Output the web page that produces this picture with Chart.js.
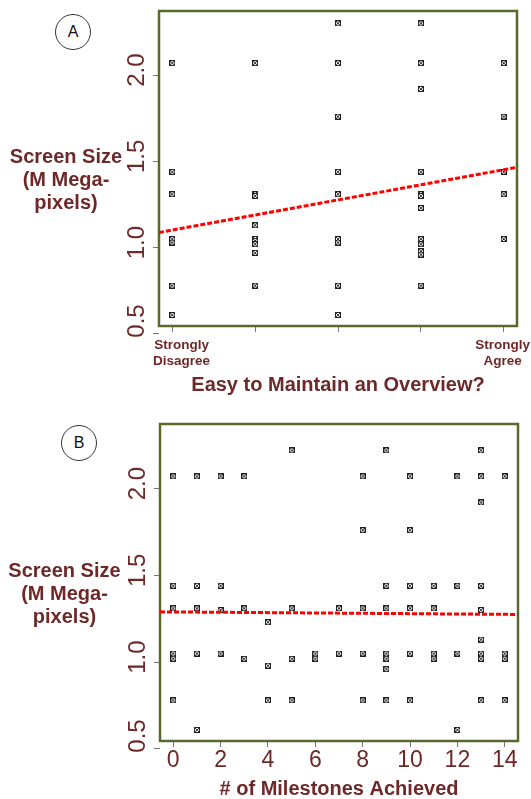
<!DOCTYPE html>
<html><head><meta charset="utf-8">
<script src="https://cdn.jsdelivr.net/npm/chart.js@4.4.0/dist/chart.umd.min.js"></script>
<style>
html,body{margin:0;padding:0;background:#fff;width:531px;height:799px;overflow:hidden;font-family:"Liberation Sans",Arial,sans-serif;}
canvas{position:absolute;left:0;}
#cA{top:0}
#cB{top:400px}
.ytitle{position:absolute;text-align:center;font-weight:bold;font-size:20px;line-height:23px;color:#6e2828;}
.badge{position:absolute;width:34px;height:34px;border:1px solid #333;border-radius:50%;text-align:center;line-height:34px;font-size:16px;color:#111;background:#fff;}
</style></head><body>
<canvas id="cA" width="531" height="400"></canvas>
<canvas id="cB" width="531" height="399"></canvas>
<div class="badge" style="left:55px;top:14px">A</div>
<div class="badge" style="left:61px;top:425px">B</div>
<div class="ytitle" style="left:0;top:145px;width:132px">Screen Size<br>(M Mega-<br>pixels)</div>
<div class="ytitle" style="left:0;top:559px;width:129px">Screen Size<br>(M Mega-<br>pixels)</div>
<script>
// ---- Data ----
// Panel A: agreement (1 = Strongly Disagree ... 5 = Strongly Agree) vs screen size (MP)
const agreeA = [1,1,1,1,1,1,1, 2,2,2,2,2,2,2,2,2, 3,3,3,3,3,3,3,3,3, 4,4,4,4,4,4,4,4,4,4,4,4, 5,5,5,5,5];
const screenA = [2.07,1.44,1.31,1.05,1.03,0.78,0.61,
                 2.07,1.31,1.30,1.13,1.05,1.04,1.02,0.97,0.78,
                 2.30,2.07,1.76,1.44,1.31,1.05,1.03,0.78,0.61,
                 2.30,2.07,1.92,1.44,1.31,1.30,1.23,1.05,1.02,0.98,0.96,0.78,
                 2.07,1.76,1.44,1.31,1.05];
const fitXA = [0.84, 5.16];
const fitYA = [1.088, 1.466];
const agreeTicks = [1,2,3,4,5];
const agreeLabels = [['Strongly','Disagree'],'','','',['Strongly','Agree']];

// Panel B: milestones achieved vs screen size (MP)
const milesB = [0,0,0,0,0,0, 1,1,1,1,1, 2,2,2,2, 3,3,3, 4,4,4, 5,5,5,5, 6,6, 7,7,
                8,8,8,8,8, 9,9,9,9,9,9,9, 10,10,10,10,10,10, 11,11,11,11, 12,12,12,12,
                13,13,13,13,13,13,13,13,13, 14,14,14,14];
const screenB = [2.07,1.44,1.31,1.05,1.02,0.78,
                 2.07,1.44,1.31,1.05,0.61,
                 2.07,1.44,1.30,1.05,
                 2.07,1.31,1.02,
                 1.23,0.98,0.78,
                 2.22,1.31,1.02,0.78,
                 1.05,1.02,
                 1.31,1.05,
                 2.07,1.76,1.31,1.05,0.78,
                 2.22,1.44,1.31,1.05,1.02,0.96,0.78,
                 2.07,1.76,1.44,1.31,1.05,0.78,
                 1.44,1.31,1.05,1.02,
                 2.07,1.44,1.05,0.61,
                 2.22,2.07,1.92,1.44,1.30,1.13,1.05,1.02,0.78,
                 2.07,1.05,1.02,0.78];
const fitXB = [-0.56, 14.56];
const fitYB = [1.290, 1.275];
const milesTicks = [0,2,4,6,8,10,12,14];

const screenTicks = [0.5,1.0,1.5,2.0];
const screenRange = [0.546, 2.372];

// ---- Styling ----
const BROWN = '#6e2828';
const OLIVE = '#5a6a2c';
const FONT = '"Liberation Sans", Arial, sans-serif';
Chart.defaults.font.family = FONT;

function makeMarker(){
  const c = document.createElement('canvas'); c.width = 6; c.height = 6;
  const g = c.getContext('2d');
  g.fillStyle = '#fff'; g.fillRect(0,0,6,6);
  g.strokeStyle = '#222'; g.lineWidth = 1; g.strokeRect(0.5,0.5,5,5);
  g.beginPath(); g.moveTo(1,1); g.lineTo(5,5); g.moveTo(5,1); g.lineTo(1,5);
  g.strokeStyle = '#333'; g.stroke();
  return c;
}
const marker = makeMarker();

const boxPlugin = {
  id: 'box',
  beforeDatasetsDraw(chart){
    const {ctx, chartArea:a} = chart;
    ctx.save(); ctx.strokeStyle = OLIVE; ctx.lineWidth = 2.5;
    ctx.strokeRect(a.left, a.top, a.right-a.left, a.bottom-a.top);
    ctx.restore();
  }
};

// rotated y tick labels (R style), placed from the y scale, kept inside the plot's height
const yLabelPlugin = {
  id: 'ylab',
  afterDraw(chart){
    const s = chart.scales.y, a = chart.chartArea, ctx = chart.ctx;
    ctx.save();
    ctx.fillStyle = BROWN; ctx.font = '24px ' + FONT;
    ctx.textAlign = 'center'; ctx.textBaseline = 'middle';
    s.ticks.forEach(t => {
      const y = Math.min(s.getPixelForValue(t.value), a.bottom) - 5;
      ctx.save(); ctx.translate(a.left - 21.5, y); ctx.rotate(-Math.PI/2);
      ctx.fillText(Number(t.value).toFixed(1), 0, 0);
      ctx.restore();
    });
    ctx.restore();
  }
};

// two-line x labels for panel A, kept from running past the plot's left edge
const xLabelPluginA = {
  id: 'xlabA',
  afterDraw(chart){
    const s = chart.scales.x, a = chart.chartArea, ctx = chart.ctx;
    ctx.save();
    ctx.fillStyle = BROWN; ctx.font = 'bold 13.5px ' + FONT;
    ctx.textAlign = 'center'; ctx.textBaseline = 'middle';
    s.ticks.forEach(t => {
      const i = agreeTicks.indexOf(t.value);
      const lab = i >= 0 ? agreeLabels[i] : '';
      if (!lab) return;
      const lines = Array.isArray(lab) ? lab : [lab];
      const w = Math.max(...lines.map(l => ctx.measureText(l).width));
      let x = s.getPixelForValue(t.value);
      x = Math.max(x, a.left - 6 + w/2);
      x = Math.min(x, chart.width - 1 - w/2);
      lines.forEach((l, k) => ctx.fillText(l, x, a.bottom + 19.5 + k*16.2));
    });
    ctx.restore();
  }
};

function build(id, cfg){
  new Chart(document.getElementById(id), {
    type: 'scatter',
    data: { datasets: [
      { type:'line', data: cfg.fitX.map((x,i)=>({x, y: cfg.fitY[i]})),
        borderColor:'#ff0000', borderWidth:3, borderDash:[5,2], pointRadius:0, fill:false, tension:0 },
      { data: cfg.xs.map((x,i)=>({x, y: cfg.ys[i]})), pointStyle: marker, pointRadius: 3,
        backgroundColor:'#333', borderColor:'#333' }
    ]},
    options: {
      responsive:false, animation:false,
      layout:{ padding:{ left:0, right:cfg.padRight, top:cfg.padTop, bottom:0 } },
      plugins:{ legend:{display:false}, tooltip:{enabled:false} },
      scales:{
        x:{
          type:'linear', min:cfg.xMin, max:cfg.xMax,
          afterBuildTicks: s => { s.ticks = cfg.xTicks.map(v=>({value:v})); },
          afterFit: s => { s.height = cfg.xHeight; },
          ticks:{ display:cfg.xTickDisplay, autoSkip:false, maxRotation:0, minRotation:0, color:BROWN,
                  font:cfg.xTickFont, padding:cfg.xTickPad,
                  callback: cfg.xLabel },
          grid:{ drawOnChartArea:false, drawTicks:true, tickLength:6, tickColor:'#777' },
          border:{ display:false },
          title:{ display:true, text:cfg.xTitle, color:BROWN,
                  font:{ size:20, weight:'bold', lineHeight:1 }, padding:{top:0, bottom:cfg.titlePad} }
        },
        y:{
          type:'linear', min:screenRange[0], max:screenRange[1],
          afterBuildTicks: s => { s.ticks = screenTicks.map(v=>({value:v})); },
          afterFit: s => { s.width = cfg.yWidth; },
          ticks:{ display:false },
          grid:{ drawOnChartArea:false, drawTicks:true, tickLength:6, tickColor:'#777' },
          border:{ display:false }
        }
      }
    },
    plugins: cfg.plugins
  });
}

build('cA', {
  xs: agreeA, ys: screenA, fitX: fitXA, fitY: fitYA,
  xMin:0.84, xMax:5.16, xTicks: agreeTicks, xTickDisplay:false,
  xLabel: (v) => '',
  xTickFont:{ size:13.5, weight:'bold' }, xTickPad:5,
  xTitle:'Easy to Maintain an Overview?', titlePad:5,
  padRight:14, padTop:11, xHeight:74, yWidth:159,
  plugins:[boxPlugin, yLabelPlugin, xLabelPluginA]
});

build('cB', {
  xs: milesB, ys: screenB, fitX: fitXB, fitY: fitYB,
  xMin:-0.56, xMax:14.56, xTicks: milesTicks, xTickDisplay:true,
  xLabel: (v) => String(v),
  xTickFont:{ size:23 }, xTickPad:0,
  xTitle:'# of Milestones Achieved', titlePad:0,
  padRight:13, padTop:24, xHeight:58, yWidth:160,
  plugins:[boxPlugin, yLabelPlugin]
});
</script>
</body></html>
